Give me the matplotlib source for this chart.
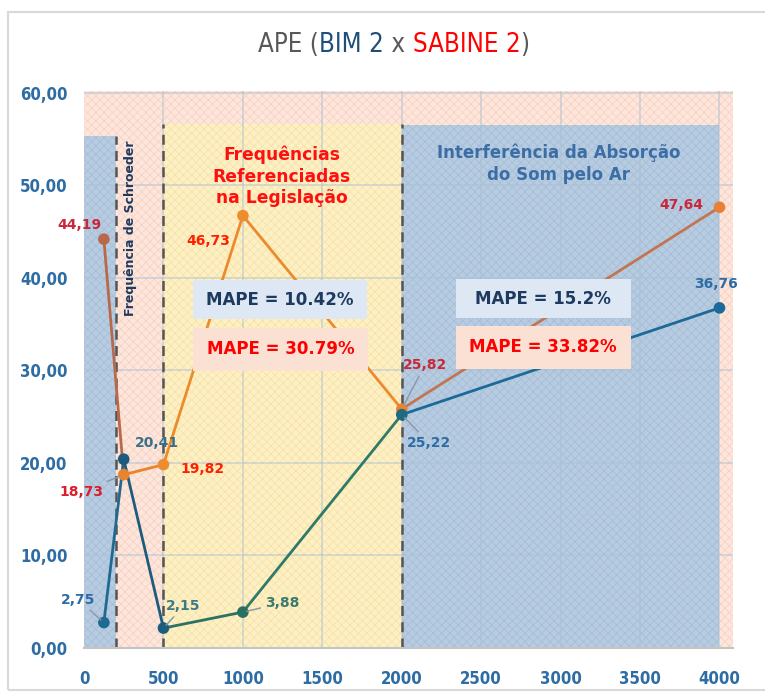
import numpy as np
import matplotlib
matplotlib.use("Agg")
import matplotlib.pyplot as plt
from matplotlib.patches import Rectangle
from matplotlib.offsetbox import TextArea, HPacker, AnchoredOffsetbox

# ── data ──────────────────────────────────────────────────────────────────────
freq = [125, 250, 500, 1000, 2000, 4000]
ape_bim = [2.75, 20.41, 2.15, 3.88, 25.22, 36.76]
ape_sabine = [44.19, 18.73, 19.82, 46.73, 25.82, 47.64]

# segment / marker colours per point (Excel-style varied colours)
bim_seg_colors = ["#1f6a93", "#1d5c7e", "#2b7262", "#2f7a68", "#1b6a98"]
bim_pt_colors = ["#1f6a93", "#1c5a7e", "#1d5e7e", "#2a7060", "#1e6a80", "#1a6a9a"]
sab_seg_colors = ["#b9694b", "#e8842c", "#ec8a2e", "#ec8a2e", "#c27552"]
sab_pt_colors = ["#b9694b", "#e8842c", "#ee8c30", "#ee8c30", "#e8842c", "#e8803a"]

bim_lbl_colors = ["#2e6ca4", "#3a6f8a", "#3d7a86", "#3d7a6e", "#2e6ca4", "#2e6ca4"]
sab_lbl_colors = ["#c8283a", "#d8202a", "#ff2000", "#ff2000", "#c8283a", "#c8283a"]

# label offsets in pixels, and whether a leader line is drawn
bim_offsets = [(-26, 23), (33, 16), (20, 22), (39, 9), (27, -28), (-3, 24)]
bim_leader = [True, False, True, True, True, False]
sab_offsets = [(-24, 14), (-42, -17), (39, -4), (-35, -25), (23, 44), (-38, 2)]
sab_leader = [False, True, False, False, True, False]

mape_bim = ["10.42%", "15.2%"]
mape_sabine = ["30.79%", "33.82%"]

NAVY = "#1f3a5f"
TICK_BLUE = "#2e6ca4"

plt.rcParams["hatch.linewidth"] = 0.6

fig = plt.figure(figsize=(7.65, 6.93), dpi=100)
ax = fig.add_axes([84 / 765, 1 - 648 / 693, (733 - 84) / 765, (648 - 91) / 693])
ax.set_xlim(0, 4085)
ax.set_ylim(0, 60.2)

# outer chart border
fig.patches.append(Rectangle((8 / 765, 3 / 693), 1.0, 1 - 15 / 693,
                             transform=fig.transFigure, fill=False,
                             edgecolor="#d9d9d9", linewidth=1.5))

# background zones
ax.add_patch(Rectangle((0, 0), 4085, 60.2, facecolor="#fde6dc",
                       edgecolor="#f8d3c4", hatch="xxxx", lw=0, zorder=0))
ax.add_patch(Rectangle((0, 0), 200, 55.3, facecolor="#b7cce1",
                       edgecolor="#a6bed7", hatch="xxxx", lw=0, zorder=0.5))
ax.add_patch(Rectangle((500, 0), 1500, 56.6, facecolor="#fdf0c6",
                       edgecolor="#f8e3a4", hatch="xxxx", lw=0, zorder=0.5))
ax.add_patch(Rectangle((2000, 0), 2000, 56.5, facecolor="#b7cce1",
                       edgecolor="#a6bed7", hatch="xxxx", lw=0, zorder=0.5))

# grid
for gy in range(10, 61, 10):
    ax.axhline(gy, color="#a9bfd3", lw=1.2, alpha=0.55, zorder=1)
for gx in range(500, 4001, 500):
    ax.axvline(gx, color="#a9bfd3", lw=1.2, alpha=0.55, zorder=1)

# zone boundaries
for bx, top in [(200, 55.3), (500, 56.6), (2000, 56.6)]:
    ax.plot([bx, bx], [0, top], color="#555555", lw=1.8,
            dashes=(4, 2.5), zorder=2)

# series
for i in range(len(freq) - 1):
    ax.plot(freq[i:i + 2], ape_sabine[i:i + 2], color=sab_seg_colors[i],
            lw=2.0, zorder=3, solid_capstyle="round")
for i in range(len(freq) - 1):
    ax.plot(freq[i:i + 2], ape_bim[i:i + 2], color=bim_seg_colors[i],
            lw=2.0, zorder=4, solid_capstyle="round")
ax.scatter(freq, ape_sabine, s=70, c=sab_pt_colors, zorder=5, linewidths=0)
ax.scatter(freq, ape_bim, s=70, c=bim_pt_colors, zorder=6, linewidths=0)

def fmt(v):
    return f"{v:.2f}".replace(".", ",")

for xs, ys, offs, leads, cols in [
    (freq, ape_bim, bim_offsets, bim_leader, bim_lbl_colors),
    (freq, ape_sabine, sab_offsets, sab_leader, sab_lbl_colors),
]:
    for x, y, off, lead, c in zip(xs, ys, offs, leads, cols):
        arrow = dict(arrowstyle="-", color="#8d9ba8", lw=1.1,
                     shrinkA=1, shrinkB=3) if lead else None
        ax.annotate(fmt(y), (x, y), xytext=off, textcoords="offset pixels",
                    ha="center", va="center", fontsize=10, fontweight="bold",
                    color=c, arrowprops=arrow, zorder=7,
                    annotation_clip=False)

# MAPE boxes
boxes = [
    (686, 1780, 35.55, 39.75, "#dde8f4", NAVY, "MAPE = " + mape_bim[0]),
    (686, 1786, 29.95, 34.6, "#fbe1d4", "#ff0000", "MAPE = " + mape_sabine[0]),
    (2340, 3440, 35.65, 39.85, "#dde8f4", NAVY, "MAPE = " + mape_bim[1]),
    (2340, 3440, 30.2, 34.8, "#fbe1d4", "#ff0000", "MAPE = " + mape_sabine[1]),
]
for x0, x1, y0, y1, fc, tc, txt in boxes:
    ax.add_patch(Rectangle((x0, y0), x1 - x0, y1 - y0, facecolor=fc,
                           edgecolor="none", zorder=8))
    ax.text((x0 + x1) / 2, (y0 + y1) / 2, txt, ha="center", va="center",
            fontsize=12, fontweight="bold", color=tc, zorder=9)

# zone captions
ax.text(1245, 50.95, "Frequências\nReferenciadas\nna Legislação", ha="center",
        va="center", fontsize=12.3, fontweight="bold", color="#ff1010",
        linespacing=1.25, zorder=9)
ax.text(2987, 52.35, "Interferência da Absorção\ndo Som pelo Ar", ha="center",
        va="center", fontsize=12, fontweight="bold", color="#3a6ea5",
        linespacing=1.3, zorder=9)
ax.text(290, 45.35, "Frequência de Schroeder", rotation=90, ha="center",
        va="center", fontsize=9, fontweight="bold", color=NAVY, zorder=9)

# axes styling
ax.set_xticks(range(0, 4001, 500))
ax.set_yticks(range(0, 61, 10))
ax.set_yticklabels([fmt(v) for v in range(0, 61, 10)])
ax.tick_params(length=0)
ax.tick_params(axis="x", pad=16)
ax.tick_params(axis="y", pad=12)
for lab in ax.get_xticklabels() + ax.get_yticklabels():
    lab.set_fontweight("bold")
    lab.set_fontstretch("condensed")
    lab.set_fontsize(12)
    lab.set_color(TICK_BLUE)
for s in ["top", "right", "left"]:
    ax.spines[s].set_visible(False)
ax.spines["bottom"].set_color("#c4c4c4")
ax.spines["bottom"].set_linewidth(1.5)
ax.spines["bottom"].set_zorder(2)

# multi-coloured title
parts = [("APE (", "#595959"), ("BIM 2", "#1f4e79"), (" x ", "#595959"),
         ("SABINE 2", "#ff0000"), (")", "#595959")]
areas = [TextArea(t, textprops=dict(color=c, fontsize=18.5, fontstretch="condensed"))
         for t, c in parts]
title = AnchoredOffsetbox(loc="center", child=HPacker(children=areas, sep=0, pad=0),
                          bbox_to_anchor=(394 / 765, 1 - 45 / 693),
                          bbox_transform=fig.transFigure, frameon=False, pad=0,
                          borderpad=0)
fig.add_artist(title)

fig.savefig("out.png", dpi=100)
